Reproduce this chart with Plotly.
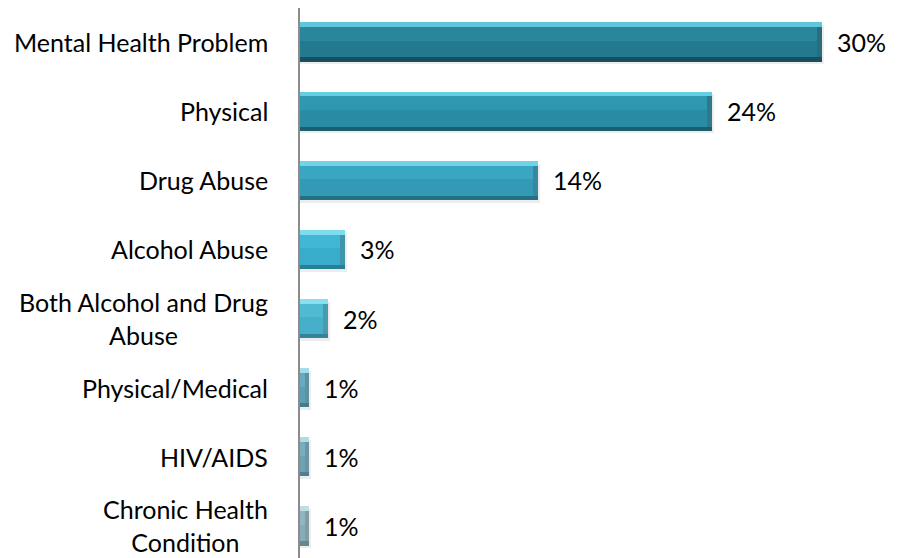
import plotly.graph_objects as go

categories = ["Mental Health Problem", "Physical", "Drug Abuse", "Alcohol Abuse",
              "Both Alcohol and Drug<br>Abuse", "Physical/Medical", "HIV/AIDS",
              "Chronic Health<br>Condition"]
values = [30.0, 23.7, 13.7, 2.6, 1.6, 0.52, 0.52, 0.52]
value_labels = ["30%", "24%", "14%", "3%", "2%", "1%", "1%", "1%"]

face_colors = ["#237a8e", "#2a8ba4", "#3399b5", "#3aaccb", "#46afc9", "#5b9fb4", "#6ea2b3", "#88abb8"]
face_upper_colors = ["#2a869b", "#3097b0", "#3aa6c1", "#42b7d4", "#4fbad2", "#67abbf", "#79adbd", "#93b5c1"]
top_colors = ["#5fc6de", "#66cde4", "#6fd3ea", "#7fdcf0", "#8adff0", "#a6dbe8", "#b2dae4", "#c1dde4"]
bottom_colors = ["#174f5e", "#1c5d6e", "#236f83", "#2a7f96", "#348398", "#46798a", "#557e8c", "#69858f"]

FONT = "Lato, Carlito, Calibri, sans-serif"
BAR_W = 0.565
TOP_BEV = 0.07
BOT_BEV = 0.06
END_BEV = 0.28
FACE_W = BAR_W - TOP_BEV - BOT_BEV

fig = go.Figure()

# soft shadow
fig.add_trace(go.Bar(
    y=categories, x=[v + 0.12 for v in values], orientation="h",
    width=BAR_W, offset=-BAR_W / 2 + 0.04,
    marker=dict(color="rgba(0,0,0,0.07)", line=dict(width=0)),
    hoverinfo="skip", showlegend=False))

# base (top highlight)
fig.add_trace(go.Bar(
    y=categories, x=values, orientation="h",
    width=BAR_W, offset=-BAR_W / 2,
    marker=dict(color=top_colors, line=dict(width=0)),
    hoverinfo="skip", showlegend=False))

# bottom bevel
fig.add_trace(go.Bar(
    y=categories, x=values, orientation="h",
    width=BOT_BEV, offset=BAR_W / 2 - BOT_BEV,
    marker=dict(color=bottom_colors, line=dict(width=0)),
    hoverinfo="skip", showlegend=False))

# right end bevel (slightly darker than face)
fig.add_trace(go.Bar(
    y=categories, x=values, orientation="h",
    width=FACE_W, offset=-BAR_W / 2 + TOP_BEV,
    marker=dict(color=bottom_colors, opacity=0.75, line=dict(width=0)),
    hoverinfo="skip", showlegend=False))

face_x = [max(v - END_BEV, v * 0.5) for v in values]

# face (lower, darker)
fig.add_trace(go.Bar(
    y=categories, x=face_x, orientation="h",
    width=FACE_W, offset=-BAR_W / 2 + TOP_BEV,
    marker=dict(color=face_colors, line=dict(width=0)),
    hoverinfo="skip", showlegend=False))

# face (upper, lighter)
fig.add_trace(go.Bar(
    y=categories, x=face_x, orientation="h",
    width=FACE_W * 0.45, offset=-BAR_W / 2 + TOP_BEV,
    marker=dict(color=face_upper_colors, line=dict(width=0)),
    hoverinfo="skip", showlegend=False))

annotations = []
for cat, v, lab in zip(categories, values, value_labels):
    annotations.append(dict(
        x=v, y=cat, xref="x", yref="y", text=lab, showarrow=False,
        xanchor="left", yanchor="middle", xshift=13,
        font=dict(family=FONT, size=25, color="#000000")))
    annotations.append(dict(
        x=0, y=cat, xref="paper", yref="y", text=cat, showarrow=False,
        xanchor="right", yanchor="middle", align="center", xshift=-30,
        font=dict(family=FONT, size=25, color="#000000")))

# the page body adds an 8px margin, so the figure is sized to fill the rest
fig.update_layout(
    width=889, height=550,
    margin=dict(l=292, r=0, t=0, b=0),
    paper_bgcolor="white", plot_bgcolor="white",
    barmode="overlay", bargap=0,
    annotations=annotations,
    font=dict(family=FONT, size=25, color="#000000"),
)
fig.update_xaxes(range=[0, 34.33], visible=False, showgrid=False, zeroline=False)
fig.update_yaxes(
    type="category", categoryorder="array", categoryarray=categories,
    range=[7.463, -0.492], showticklabels=False, ticks="",
    showline=True, linecolor="#8c8c8c", linewidth=2,
    showgrid=False, zeroline=False,
)

fig.write_html("out.html")
